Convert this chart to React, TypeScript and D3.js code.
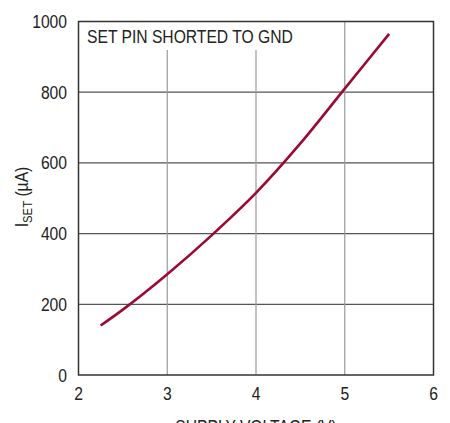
import React from "react";
import * as d3 from "d3";

const voltage = [2.25, 2.5, 3, 3.5, 4, 4.5, 5, 5.5];
const iset = [140, 185, 285, 395, 515, 655, 810, 965];
const xTicks = [2, 3, 4, 5, 6];
const yTicks = [0, 200, 400, 600, 800, 1000];

const W = 450;
const H = 423;
const FONT = "'Liberation Sans', Arial, sans-serif";
const SX = 0.87;

function T({ x, y, anchor = "start", children, rotate = 0 }: any) {
  return (
    <text
      transform={`translate(${x},${y}) rotate(${rotate}) scale(${SX},1)`}
      fontSize={18}
      textAnchor={anchor}
      fill="#222"
    >
      {children}
    </text>
  );
}

export default function App() {
  const x = d3.scaleLinear().domain([2, 6]).range([78.5, 433.5]);
  const y = d3.scaleLinear().domain([0, 1000]).range([375, 21.5]);
  const pts = voltage.map((v, i) => [v, iset[i]] as [number, number]);
  const line = d3
    .line<[number, number]>()
    .x((d) => x(d[0]))
    .y((d) => y(d[1]))
    .curve(d3.curveMonotoneX);

  return (
    <svg
      width={W}
      height={H}
      style={{ position: "absolute", left: 0, top: 0, background: "#fff" }}
      fontFamily={FONT}
    >
      <rect x={0} y={0} width={W} height={H} fill="#fff" />
      {yTicks.slice(1, -1).map((t) => (
        <line key={"h" + t} x1={x(2)} x2={x(6)} y1={y(t)} y2={y(t)} stroke="#555" strokeWidth={1.2} />
      ))}
      {xTicks.slice(1, -1).map((t) => (
        <line
          key={"v" + t}
          x1={x(t)}
          x2={x(t)}
          y1={t < 5 ? 50 : y(1000)}
          y2={y(0)}
          stroke="#9a9a9a"
          strokeWidth={1.2}
        />
      ))}
      <rect x={x(2)} y={y(1000)} width={x(6) - x(2)} height={y(0) - y(1000)} fill="none" stroke="#333" strokeWidth={1.5} />
      <path d={line(pts) || ""} fill="none" stroke="#9b0a32" strokeWidth={2.6} />
      <T x={87} y={43}>SET PIN SHORTED TO GND</T>
      {yTicks.map((t) => (
        <T key={"yl" + t} x={67} y={y(t) + 6.5} anchor="end">
          {t}
        </T>
      ))}
      {xTicks.map((t) => (
        <T key={"xl" + t} x={x(t)} y={400} anchor="middle">
          {t}
        </T>
      ))}
      <T x={256} y={433} anchor="middle">SUPPLY VOLTAGE (V)</T>
      <T x={28} y={197} anchor="middle" rotate={-90}>
        I<tspan fontSize={13} dy={4}>SET</tspan>
        <tspan dy={-4}> (µA)</tspan>
      </T>
    </svg>
  );
}
